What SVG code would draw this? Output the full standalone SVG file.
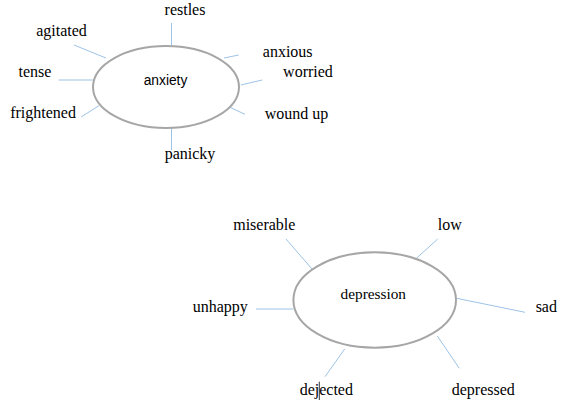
<svg xmlns="http://www.w3.org/2000/svg" width="568" height="410" viewBox="0 0 568 410">
<style>
.bg{fill:#ffffff}
.hub{fill:#ffffff;stroke:#a6a6a6;stroke-width:2}
.lbl{font-family:"Liberation Serif","Times New Roman",serif;font-size:16px;fill:#000}
.hubt{font-family:"Liberation Sans",Arial,sans-serif;font-size:13.8px;fill:#000}
.hubs{font-family:"Liberation Serif","Times New Roman",serif;font-size:15.3px;fill:#000}
.c line{stroke:#9dc3e6;stroke-width:1}
</style>
<rect class="bg" x="0" y="0" width="568" height="410"/>
<g class="c" id="connectors">
<line x1="171.5" y1="23" x2="171.5" y2="45"/>
<line x1="74" y1="45" x2="106" y2="58"/>
<line x1="58.7" y1="80" x2="92.7" y2="80"/>
<line x1="81" y1="117" x2="99" y2="105.7"/>
<line x1="224" y1="58" x2="238.7" y2="55"/>
<line x1="240.7" y1="85" x2="262.3" y2="80"/>
<line x1="225" y1="105" x2="245" y2="114.3"/>
<line x1="171.5" y1="128" x2="171.5" y2="150"/>
<line x1="286" y1="239" x2="312.3" y2="269.3"/>
<line x1="437.7" y1="239" x2="415.7" y2="259"/>
<line x1="456.7" y1="298.3" x2="525" y2="312.3"/>
<line x1="256" y1="309" x2="293.3" y2="309"/>
<line x1="325" y1="376.7" x2="344.7" y2="349"/>
<line x1="437.3" y1="336" x2="459.3" y2="368.3"/>
</g>
<g id="anxiety">
<ellipse class="hub" cx="166" cy="87" rx="73" ry="41"/>
<text class="hubt" x="165.5" y="85" text-anchor="middle">anxiety</text>
</g>
<g id="restles"><text class="lbl" x="185" y="15" text-anchor="middle">restles</text></g>
<g id="agitated"><text class="lbl" x="61.5" y="36" text-anchor="middle">agitated</text></g>
<g id="tense"><text class="lbl" x="35" y="77" text-anchor="middle">tense</text></g>
<g id="frightened"><text class="lbl" x="43" y="118" text-anchor="middle">frightened</text></g>
<g id="anxious"><text class="lbl" x="287.7" y="57" text-anchor="middle">anxious</text></g>
<g id="worried"><text class="lbl" x="308" y="77" text-anchor="middle">worried</text></g>
<g id="wound-up"><text class="lbl" x="296.5" y="119" text-anchor="middle">wound up</text></g>
<g id="panicky"><text class="lbl" x="190" y="159" text-anchor="middle">panicky</text></g>
<g id="depression">
<ellipse class="hub" cx="374.7" cy="300" rx="81.3" ry="47.7"/>
<text class="hubs" x="373.3" y="299.3" text-anchor="middle">depression</text>
</g>
<g id="miserable"><text class="lbl" x="264.3" y="230" text-anchor="middle">miserable</text></g>
<g id="low"><text class="lbl" x="449.7" y="230" text-anchor="middle">low</text></g>
<g id="sad"><text class="lbl" x="546.3" y="312.3" text-anchor="middle">sad</text></g>
<g id="unhappy"><text class="lbl" x="220.2" y="312.3" text-anchor="middle">unhappy</text></g>
<g id="dejected"><text class="lbl" x="326.3" y="395" text-anchor="middle">dejected</text>
<line x1="319.3" y1="381.7" x2="319.3" y2="400" stroke="#000" stroke-width="0.8"/></g>
<g id="depressed"><text class="lbl" x="483.3" y="395" text-anchor="middle">depressed</text></g>
</svg>
